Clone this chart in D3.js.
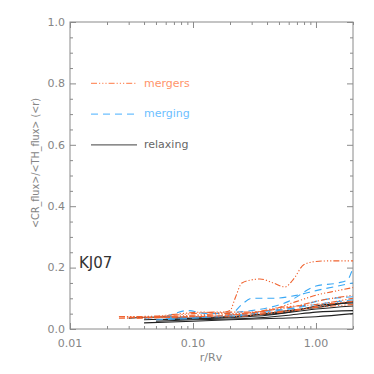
<!DOCTYPE html>
<html>
<head>
<meta charset="utf-8">
<script src="https://cdn.jsdelivr.net/npm/d3@7"></script>
<style>
  body { margin: 0; background: #fff; }
  svg text { font-family: "DejaVu Sans", sans-serif; }
</style>
</head>
<body>
<svg id="chart" width="374" height="374"></svg>
<script>
// Data: [r/Rv, ratio] pairs per cluster
const mergers = [
  [[0.025,0.04],[0.05,0.04],[0.1,0.045],[0.15,0.05],[0.2,0.06],[0.22,0.1],[0.25,0.15],[0.3,0.16],[0.35,0.163],[0.45,0.15],[0.56,0.137],[0.65,0.16],[0.8,0.21],[1.0,0.22],[1.3,0.222],[2.0,0.222]],
  [[0.025,0.04],[0.05,0.042],[0.08,0.05],[0.12,0.055],[0.2,0.05],[0.4,0.06],[0.7,0.09],[1.0,0.11],[1.5,0.125],[2.0,0.135]],
  [[0.03,0.038],[0.06,0.038],[0.1,0.04],[0.2,0.045],[0.4,0.06],[0.7,0.075],[1.0,0.09],[2.0,0.11]],
  [[0.025,0.035],[0.05,0.037],[0.1,0.04],[0.2,0.04],[0.4,0.05],[0.8,0.065],[1.2,0.08],[2.0,0.09]],
  [[0.035,0.035],[0.08,0.04],[0.15,0.045],[0.3,0.05],[0.6,0.06],[1.0,0.07],[2.0,0.08]],
  [[0.05,0.04],[0.1,0.05],[0.15,0.055],[0.3,0.055],[0.5,0.07],[1.0,0.08],[2.0,0.1]]
];
const merging = [
  [[0.06,0.04],[0.07,0.05],[0.09,0.06],[0.13,0.05],[0.3,0.06],[0.6,0.09],[1.0,0.14],[1.5,0.15],[1.8,0.16],[2.0,0.2]],
  [[0.06,0.035],[0.15,0.04],[0.2,0.045],[0.25,0.08],[0.3,0.1],[0.45,0.1],[0.7,0.11],[1.0,0.125],[1.5,0.14],[2.0,0.15]],
  [[0.04,0.035],[0.1,0.04],[0.2,0.04],[0.4,0.06],[0.7,0.07],[1.0,0.09],[2.0,0.105]],
  [[0.05,0.03],[0.1,0.035],[0.2,0.045],[0.3,0.05],[0.6,0.065],[1.0,0.08],[2.0,0.095]]
];
const relaxing = [
  [[0.04,0.02],[0.1,0.025],[0.2,0.03],[0.5,0.035],[1.0,0.04],[2.0,0.05]],
  [[0.05,0.025],[0.1,0.03],[0.3,0.035],[0.6,0.045],[1.0,0.055],[2.0,0.06]],
  [[0.03,0.035],[0.06,0.04],[0.1,0.035],[0.3,0.045],[0.6,0.06],[1.0,0.07],[2.0,0.09]],
  [[0.04,0.03],[0.1,0.035],[0.3,0.045],[0.6,0.055],[1.0,0.075],[2.0,0.085]],
  [[0.05,0.03],[0.15,0.035],[0.4,0.045],[1.0,0.065],[2.0,0.075]]
];
const xMajor = [0.01, 0.1, 1];
const yMajor = [0, 0.2, 0.4, 0.6, 0.8, 1.0];
const legendItems = ['mergers', 'merging', 'relaxing'];
const legendY = [0.8, 0.7, 0.6];

const pLeft = 70, pRight = 353, pTop = 22, pBottom = 329;
const axisColor = '#8a8a8a';
const textColor = '#858585';

const styles = {
  mergers: { color: '#f0622e', legend: '#ff946a', dash: '6,2,1.2,2,1.2,2,1.2,2' },
  merging: { color: '#3aa8f5', legend: '#6cc0ff', dash: '7,5' },
  relaxing: { color: '#222', legend: '#666', dash: null }
};

const svg = d3.select('#chart');

const x = d3.scaleLog().domain([0.01, 2]).range([pLeft, pRight]);
const y = d3.scaleLinear().domain([0, 1]).range([pBottom, pTop]);

// minor ticks
const xMinor = [];
[0.01, 0.1, 1].forEach(d => { for (let k = 2; k <= 9; k++) { if (d * k <= 2) xMinor.push(d * k); } });
const yMinor = d3.range(0, 1.0001, 0.05).filter(v => Math.abs(v * 5 - Math.round(v * 5)) > 1e-6);

function tickAxis(axisFn, scale, vals, size, transform) {
  const g = svg.append('g')
    .attr('transform', transform)
    .call(axisFn(scale).tickValues(vals).tickSize(-size).tickFormat(''));
  g.select('.domain').remove();
  g.selectAll('line').attr('stroke', axisColor);
  return g;
}

tickAxis(d3.axisBottom, x, xMinor, 3, `translate(0,${pBottom})`);
tickAxis(d3.axisBottom, x, xMajor, 6, `translate(0,${pBottom})`);
tickAxis(d3.axisTop, x, xMinor, 3, `translate(0,${pTop})`);
tickAxis(d3.axisTop, x, xMajor, 6, `translate(0,${pTop})`);
tickAxis(d3.axisLeft, y, yMinor, 3, `translate(${pLeft},0)`);
tickAxis(d3.axisLeft, y, yMajor, 6, `translate(${pLeft},0)`);
tickAxis(d3.axisRight, y, yMinor, 3, `translate(${pRight},0)`);
tickAxis(d3.axisRight, y, yMajor, 6, `translate(${pRight},0)`);

// tick labels
svg.selectAll('.xlab').data(xMajor).enter().append('text')
  .attr('x', d => x(d)).attr('y', 347)
  .attr('text-anchor', 'middle').attr('font-size', 11).attr('fill', textColor)
  .text(d3.format('.2f'));
svg.selectAll('.ylab').data(yMajor).enter().append('text')
  .attr('x', 65).attr('y', d => y(d)).attr('dy', '0.35em')
  .attr('text-anchor', 'end').attr('font-size', 11).attr('fill', textColor)
  .text(d3.format('.1f'));

svg.append('rect')
  .attr('x', pLeft).attr('y', pTop).attr('width', pRight - pLeft).attr('height', pBottom - pTop)
  .attr('fill', 'none').attr('stroke', axisColor);

// axis titles
svg.append('text').attr('x', 211).attr('y', 361)
  .attr('text-anchor', 'middle').attr('font-size', 11).attr('fill', textColor)
  .text('r/Rv');
svg.append('text').attr('transform', 'translate(39,163) rotate(-90)')
  .attr('x', -65)
  .attr('font-size', 10).attr('fill', textColor)
  .attr('textLength', 130).attr('lengthAdjust', 'spacingAndGlyphs')
  .text('<CR_flux>/<TH_flux> (<r)');

// lines
const line = d3.line().x(d => x(d[0])).y(d => y(d[1])).curve(d3.curveMonotoneX);
const groups = [['relaxing', relaxing], ['merging', merging], ['mergers', mergers]];
groups.forEach(([name, series]) => {
  const st = styles[name];
  svg.append('g').selectAll('path').data(series).enter().append('path')
    .attr('d', line)
    .attr('fill', 'none')
    .attr('stroke', st.color)
    .attr('stroke-width', 1.1)
    .attr('stroke-dasharray', st.dash);
});

// legend
legendItems.forEach((name, i) => {
  const st = styles[name];
  svg.append('line')
    .attr('x1', 91).attr('x2', 137).attr('y1', y(legendY[i])).attr('y2', y(legendY[i]))
    .attr('stroke', st.legend).attr('stroke-width', 1.2)
    .attr('stroke-dasharray', st.dash);
  svg.append('text')
    .attr('x', 144).attr('y', y(legendY[i])).attr('dy', '0.3em')
    .attr('font-size', 11).attr('fill', st.legend)
    .text(name);
});

svg.append('text').attr('x', 79).attr('y', 268)
  .attr('font-size', 15).attr('fill', '#333')
  .text('KJ07');
</script>
</body>
</html>
